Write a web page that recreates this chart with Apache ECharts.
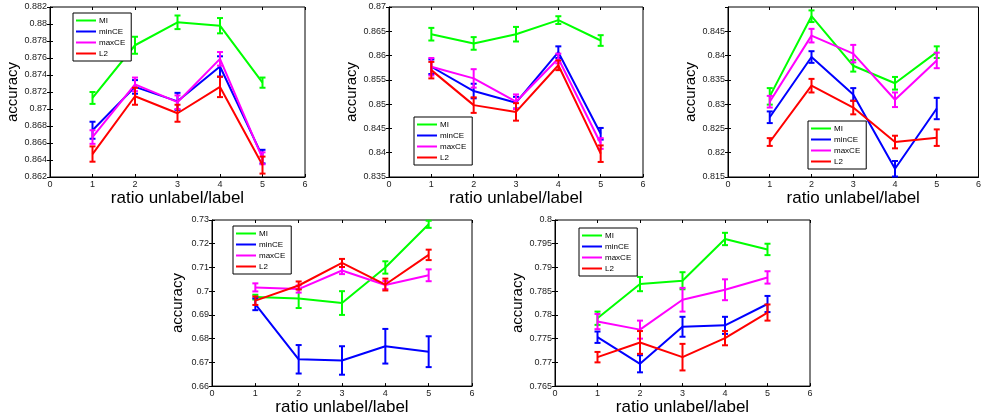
<!DOCTYPE html>
<html>
<head>
<meta charset="utf-8">
<script src="https://cdn.jsdelivr.net/npm/echarts@6/dist/echarts.min.js"></script>
<style>
  html, body { margin: 0; padding: 0; background: #fff; }
  #chart { width: 984px; height: 417px; }
</style>
</head>
<body>
<div id="chart"></div>
<script>
const ratios = [1, 2, 3, 4, 5];
const methods = ["MI", "minCE", "maxCE", "L2"];
const colors = ["#00ff00", "#0000ff", "#ff00ff", "#ff0000"];

// rows follow the methods order: MI, minCE, maxCE, L2
const p1Means = [
  [0.8713, 0.8775, 0.8802, 0.8798, 0.8731],
  [0.8675, 0.8726, 0.8709, 0.8750, 0.8644],
  [0.8667, 0.8729, 0.8708, 0.8759, 0.8642],
  [0.8647, 0.8715, 0.8695, 0.8726, 0.8634]
];
const p1Errs = [
  [0.0007, 0.0010, 0.0008, 0.0009, 0.0006],
  [0.0010, 0.0008, 0.0010, 0.0012, 0.0008],
  [0.0008, 0.0008, 0.0008, 0.0008, 0.0007],
  [0.0009, 0.0010, 0.0010, 0.0012, 0.0010]
];
const p2Means = [
  [0.8644, 0.8625, 0.8644, 0.8673, 0.8631],
  [0.8577, 0.8527, 0.8503, 0.8607, 0.8439],
  [0.8577, 0.8553, 0.8505, 0.8594, 0.8419],
  [0.8570, 0.8498, 0.8484, 0.8580, 0.8398]
];
const p2Errs = [
  [0.0013, 0.0013, 0.0015, 0.0008, 0.0011],
  [0.0015, 0.0015, 0.0012, 0.0012, 0.0012],
  [0.0018, 0.0019, 0.0015, 0.0010, 0.0011],
  [0.0017, 0.0016, 0.0018, 0.0010, 0.0017]
];
const p3Means = [
  [0.8316, 0.8481, 0.8379, 0.8343, 0.8407],
  [0.8273, 0.8397, 0.8320, 0.8167, 0.8291],
  [0.8305, 0.8441, 0.8404, 0.8309, 0.8390],
  [0.8222, 0.8338, 0.8293, 0.8222, 0.8231]
];
const p3Errs = [
  [0.0017, 0.0012, 0.0012, 0.0013, 0.0012],
  [0.0012, 0.0012, 0.0013, 0.0016, 0.0022],
  [0.0012, 0.0014, 0.0018, 0.0015, 0.0016],
  [0.0008, 0.0014, 0.0014, 0.0013, 0.0017]
];
const p4Means = [
  [0.6975, 0.6969, 0.6950, 0.7100, 0.7282],
  [0.6945, 0.6713, 0.6708, 0.6768, 0.6745],
  [0.7016, 0.7009, 0.7087, 0.7026, 0.7067],
  [0.6960, 0.7024, 0.7119, 0.7028, 0.7153]
];
const p4Errs = [
  [0.0010, 0.0040, 0.0050, 0.0026, 0.0015],
  [0.0025, 0.0060, 0.0060, 0.0073, 0.0065],
  [0.0017, 0.0015, 0.0015, 0.0017, 0.0025],
  [0.0018, 0.0017, 0.0017, 0.0025, 0.0022]
];
const p5Means = [
  [0.7793, 0.7865, 0.7872, 0.7960, 0.7938],
  [0.7753, 0.7697, 0.7775, 0.7778, 0.7823],
  [0.7786, 0.7769, 0.7832, 0.7853, 0.7879],
  [0.7711, 0.7742, 0.7711, 0.7751, 0.7805]
];
const p5Errs = [
  [0.0014, 0.0015, 0.0018, 0.0013, 0.0012],
  [0.0012, 0.0018, 0.0021, 0.0018, 0.0017],
  [0.0016, 0.0019, 0.0025, 0.0022, 0.0013],
  [0.0011, 0.0024, 0.0028, 0.0015, 0.0017]
];

const xTicks = [0, 6, 1];
const yMins = [0.862, 0.835, 0.815, 0.66, 0.765];
const yMaxs = [0.882, 0.87, 0.85, 0.73, 0.8];
const ySteps = [0.002, 0.005, 0.005, 0.01, 0.005];

const panels = [
  { means: p1Means, errs: p1Errs, box: [50, 7, 255, 170], legend: [73, 13] },
  { means: p2Means, errs: p2Errs, box: [389, 7, 254, 170], legend: [414, 117] },
  { means: p3Means, errs: p3Errs, box: [728, 7, 255, 170], legend: [808, 121], hideTop: true },
  { means: p4Means, errs: p4Errs, box: [212, 220, 260, 170], legend: [233, 226] },
  { means: p5Means, errs: p5Errs, box: [555, 220, 255, 170], legend: [579, 228] }
];

const FONT = "Liberation Sans";

function fmt(v) {
  return String(parseFloat(v.toFixed(4)));
}

function renderErr(params, api) {
  const x = api.value(0);
  const lo = api.coord([x, api.value(1)]);
  const hi = api.coord([x, api.value(2)]);
  const w = 3;
  const style = { stroke: api.visual("color"), lineWidth: 2, fill: null };
  return {
    type: "group",
    children: [
      { type: "line", shape: { x1: lo[0], y1: lo[1], x2: hi[0], y2: hi[1] }, style },
      { type: "line", shape: { x1: lo[0] - w, y1: lo[1], x2: lo[0] + w, y2: lo[1] }, style },
      { type: "line", shape: { x1: hi[0] - w, y1: hi[1], x2: hi[0] + w, y2: hi[1] }, style }
    ]
  };
}

const grid = [], xAxis = [], yAxis = [], series = [], legend = [];

panels.forEach((p, i) => {
  const [l, t, w, h] = p.box;
  grid.push({ left: l, top: t, width: w, height: h, show: true, borderColor: "#000", borderWidth: 1, backgroundColor: "#fff" });

  const axLine = { show: true, lineStyle: { color: "#000", width: 1 } };
  const tick = { show: true, inside: true, length: 3, lineStyle: { color: "#000" } };
  const lab = { color: "#222", fontSize: 9, fontFamily: FONT, margin: 3 };

  xAxis.push({
    type: "value", gridIndex: i, min: xTicks[0], max: xTicks[1], interval: xTicks[2],
    axisLine: axLine, axisTick: tick, splitLine: { show: false },
    axisLabel: lab,
    name: "ratio unlabel/label", nameLocation: "middle", nameGap: 6,
    nameTextStyle: { fontSize: 17, fontFamily: FONT, color: "#000", verticalAlign: "top" }
  });
  xAxis.push({
    type: "value", gridIndex: i, position: "top", min: xTicks[0], max: xTicks[1], interval: xTicks[2],
    axisLine: { show: false }, axisTick: tick, axisLabel: { show: false }, splitLine: { show: false }
  });
  yAxis.push({
    type: "value", gridIndex: i, min: yMins[i], max: yMaxs[i], interval: ySteps[i],
    axisLine: axLine, axisTick: tick, splitLine: { show: false },
    axisLabel: Object.assign({}, lab, { formatter: fmt, showMaxLabel: !p.hideTop }),
    name: "accuracy", nameLocation: "middle", nameGap: 27,
    nameTextStyle: { fontSize: 15, fontFamily: FONT, color: "#000" }
  });
  yAxis.push({
    type: "value", gridIndex: i, position: "right", min: yMins[i], max: yMaxs[i], interval: ySteps[i],
    axisLine: { show: false }, axisTick: tick, axisLabel: { show: false }, splitLine: { show: false }
  });

  legend.push({
    data: methods, orient: "vertical", left: p.legend[0], top: p.legend[1],
    backgroundColor: "#fff", borderColor: "#000", borderWidth: 1, borderRadius: 0,
    padding: [3, 6, 3, 3], itemGap: 2, itemWidth: 20, itemHeight: 2, icon: "rect",
    textStyle: { fontSize: 8, fontFamily: FONT, color: "#000", lineHeight: 9, padding: [0, 0, 0, -2] },
    selectedMode: false
  });

  methods.forEach((m, k) => {
    series.push({
      type: "line", name: m, xAxisIndex: 2 * i, yAxisIndex: 2 * i,
      data: ratios.map((x, j) => [x, p.means[k][j]]),
      showSymbol: false, symbol: "none", silent: true,
      lineStyle: { color: colors[k], width: 2 }, itemStyle: { color: colors[k] },
      z: 3 + k
    });
  });
  methods.forEach((m, k) => {
    series.push({
      type: "custom", name: m, xAxisIndex: 2 * i, yAxisIndex: 2 * i,
      data: ratios.map((x, j) => [x, p.means[k][j] - p.errs[k][j], p.means[k][j] + p.errs[k][j]]),
      renderItem: renderErr, itemStyle: { color: colors[k] }, silent: true,
      encode: { x: 0, y: [1, 2] }, z: 3 + k
    });
  });
});

const chart = echarts.init(document.getElementById("chart"));
chart.setOption({
  animation: false,
  grid, xAxis, yAxis, series, legend
});
</script>
</body>
</html>
